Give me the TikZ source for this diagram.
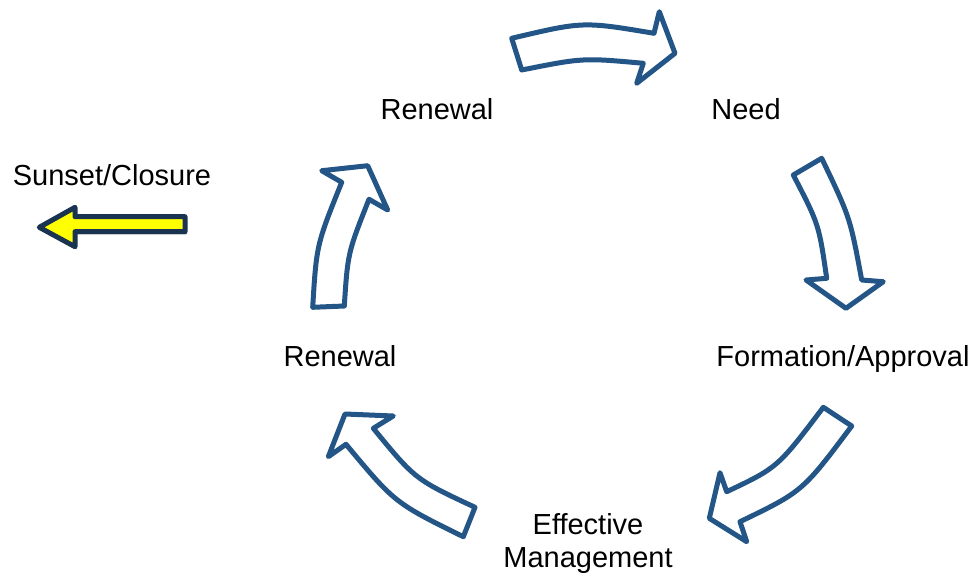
\documentclass[tikz,border=0pt]{standalone}
\usepackage{fontspec}
\setmainfont{Liberation Sans}
\usetikzlibrary{shadows}
\definecolor{cycblue}{HTML}{235587}
\definecolor{navy}{HTML}{1A3350}
\definecolor{yel}{HTML}{FFFF00}
\begin{document}
\begin{tikzpicture}[x=1pt,y=-1pt,
  lbl/.style={font=\fontsize{29}{33}\selectfont, inner sep=0pt, text=black},
  blockarrow/.style={draw=cycblue, line width=5pt, line join=round, fill=white},
  exitarrow/.style={draw=navy, line width=5pt, line join=round, fill=yel,
    drop shadow={opacity=0.35, shadow xshift=2pt, shadow yshift=-3pt}}]
\useasboundingbox (0,0) rectangle (972,576);

% labels
\node[lbl, anchor=base] (need) at (746,119) {Need};
\node[lbl, anchor=base] (renewtop) at (437,119) {Renewal};
\node[lbl, anchor=base] (sunset) at (112,185) {Sunset/Closure};
\node[lbl, anchor=base] (renewleft) at (340,366) {Renewal};
\node[lbl, anchor=base] (formation) at (843,366) {Formation/Approval};
\node[lbl, align=center] (effective) at (588,543) {Effective\\[0pt]Management};

% arrow 1: Renewal -> Need (top)
\draw[blockarrow] (511.7,38.3) -- (521.7,70)
  .. controls (583,57.8) .. (643.3,63.3)
  -- (636.7,83.3) -- (675,53.3) -- (659.3,11.7) -- (654,33.3)
  .. controls (583,21.4) .. (511.7,38.3) -- cycle;

% arrow 2: Need -> Formation/Approval
\draw[blockarrow] (793.3,175) -- (821.7,158.3)
  .. controls (850.1,217.6) .. (861.7,280)
  -- (883.3,281.7) -- (846,308.3) -- (806,280) -- (826.7,278.3)
  .. controls (818.9,224.4) .. (793.3,175) -- cycle;

% arrow 3: Formation/Approval -> Effective Management
\draw[blockarrow] (823.3,407.3) -- (851.7,426)
  .. controls (802.7,491.4) .. (740,521.7)
  -- (746.7,541.7) -- (709.3,518.3) -- (720,472.7) -- (726.7,491.7)
  .. controls (777.7,467.5) .. (823.3,407.3) -- cycle;

% arrow 4: Effective Management -> Renewal (left)
\draw[blockarrow] (475,507.3) -- (463.3,536.7)
  .. controls (394.9,503) .. (346,444.3)
  -- (328.3,456.7) -- (345,414) -- (393.3,416) -- (373.3,428.3)
  .. controls (415.2,479.4) .. (475,507.3) -- cycle;

% arrow 5: Renewal (left) -> Renewal (top)
\draw[blockarrow] (312.7,307.3) -- (344.3,306)
  .. controls (347.8,252.7) .. (369,199.3)
  -- (387.7,210) -- (367.7,165.7) -- (321.7,170.7) -- (341.7,182.3)
  .. controls (316.5,244.8) .. (312.7,307.3) -- cycle;

% exit arrow: Sunset/Closure
\draw[exitarrow] (185,216.7) -- (185,231.7) -- (75,231.7) -- (75,246.7)
  -- (39.3,227.3) -- (75,207.3) -- (75,216.7) -- cycle;
\end{tikzpicture}
\end{document}
